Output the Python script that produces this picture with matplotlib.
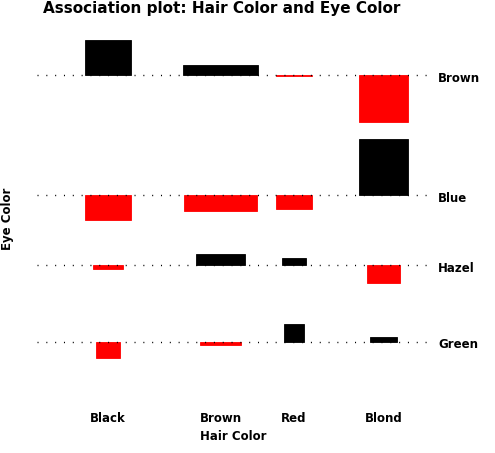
import numpy as np
from matplotlib import pyplot as plt

# Hair x Eye colour counts (HairEyeColor, summed over sex)
hair = ['Black', 'Brown', 'Red', 'Blond']
eye = ['Brown', 'Blue', 'Hazel', 'Green']
brown_eye = [68, 119, 26, 7]
blue_eye = [20, 84, 17, 94]
hazel_eye = [15, 54, 14, 10]
green_eye = [5, 29, 14, 16]

# layout (pixels in the 495x453 picture)
W, H = 495, 453
PX_X, PX_Y = 7.2, 8.0          # pixels per unit of sqrt(expected) / residual
col_px = [108, 220.5, 294, 383.5]
row_px = [75, 195, 265, 342]

obs = np.array([brown_eye, blue_eye, hazel_eye, green_eye], dtype=float)
exp = np.outer(obs.sum(axis=1), obs.sum(axis=0)) / obs.sum()
resid = (obs - exp) / np.sqrt(exp)
widths = np.sqrt(exp)


def px(x, y):
    return x / PX_X, -y / PX_Y


fig = plt.figure(figsize=(W / 100, H / 100), dpi=100)
ax = fig.add_axes([0, 0, 1, 1])
ax.axis('off')
ax.set_xlim(0, W / PX_X)
ax.set_ylim(-H / PX_Y, 0)

xc = np.array(col_px) / PX_X
base = -np.array(row_px) / PX_Y

for i in range(len(eye)):
    cols = np.where(resid[i] < 0, '#ff0000', '#000000')
    ax.bar(xc, resid[i], width=widths[i], bottom=base[i], color=cols,
           edgecolor=cols, lw=0.6, zorder=2)

ax.hlines(base, 37 / PX_X, 428 / PX_X, colors='black', lw=1.0,
          linestyles=(0, (0.75, 5.6)), zorder=3)

font = dict(family='DejaVu Sans', fontweight='bold')
for i, name in enumerate(eye):
    x, y = px(438, row_px[i] + 3)
    ax.text(x, y, name, ha='left', va='center', fontsize=8.5, **font)

for j, name in enumerate(hair):
    ax.text(xc[j], -419 / PX_Y, name, ha='center', va='center',
            fontsize=8.5, **font)

x, y = px(233, 437)
ax.text(x, y, 'Hair Color', ha='center', va='center', fontsize=8.5, **font)
x, y = px(8, 219)
ax.text(x, y, 'Eye Color', ha='center', va='center', rotation=90,
        fontsize=8.5, **font)
x, y = px(222, 8)
ax.text(x, y, 'Association plot: Hair Color and Eye Color', ha='center',
        va='center', fontsize=11, **font)

fig.savefig('out.png', dpi=100)
